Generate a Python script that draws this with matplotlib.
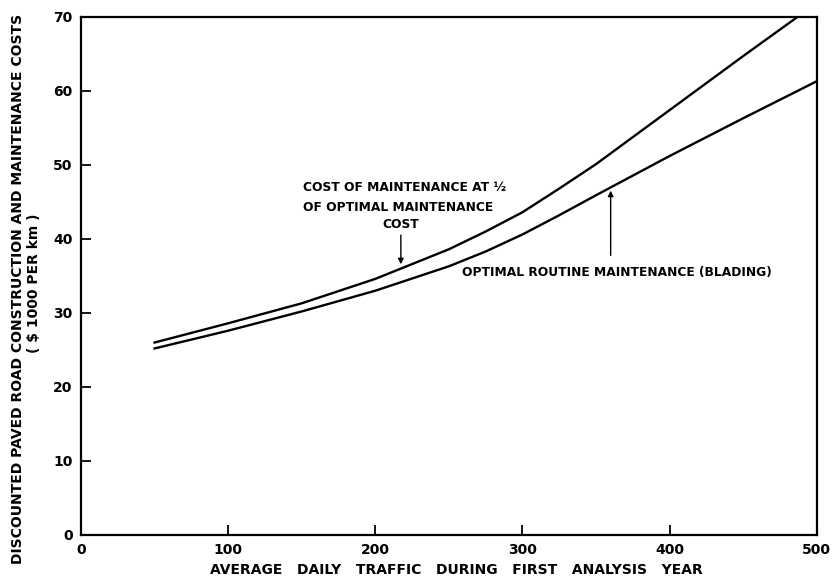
import matplotlib
matplotlib.use("Agg")
import matplotlib.pyplot as plt

# Data
traffic = [50, 100, 150, 200, 250, 275, 300, 325, 350, 400, 450, 487]
cost_half_maint = [26.0, 28.6, 31.3, 34.6, 38.6, 41.0, 43.6, 46.8, 50.1, 57.4, 64.7, 70.0]

traffic_opt = [50, 100, 150, 200, 250, 275, 300, 325, 350, 400, 450, 500]
cost_optimal = [25.2, 27.6, 30.2, 33.0, 36.3, 38.3, 40.6, 43.2, 45.9, 51.2, 56.3, 61.3]

x_ticks = [0, 100, 200, 300, 400, 500]
y_ticks = [0, 10, 20, 30, 40, 50, 60, 70]

plt.rcParams["font.family"] = ["DejaVu Sans"]
plt.rcParams["font.weight"] = "bold"

fig = plt.figure(figsize=(8.35, 5.84), dpi=100)
ax = fig.add_axes([0.097, 0.084, 0.881, 0.887])

ax.plot(traffic, cost_half_maint, color="black", lw=1.7, solid_joinstyle="round")
ax.plot(traffic_opt, cost_optimal, color="black", lw=1.7, solid_joinstyle="round")

ax.set_xlim(0, 500)
ax.set_ylim(0, 70)
ax.set_xticks(x_ticks)
ax.set_yticks(y_ticks)
ax.tick_params(direction="in", length=7, width=1.3, labelsize=10, pad=6)
for lbl in ax.get_xticklabels() + ax.get_yticklabels():
    lbl.set_fontweight("bold")
for s in ax.spines.values():
    s.set_linewidth(1.6)

# annotations
note_fs = 8.8
ax.text(150.8, 46.9, "COST OF MAINTENANCE AT ½", fontsize=note_fs, fontweight="bold", va="center", ha="left")
ax.text(150.8, 44.2, "OF OPTIMAL MAINTENANCE", fontsize=note_fs, fontweight="bold", va="center", ha="left")
ax.text(217.4, 41.9, "COST", fontsize=note_fs, fontweight="bold", va="center", ha="center")
ax.annotate("", xy=(217.4, 36.2), xytext=(217.4, 40.9),
            arrowprops=dict(arrowstyle="-|>", color="black", lw=1.0, mutation_scale=8))

ax.text(258.8, 35.5, "OPTIMAL ROUTINE MAINTENANCE (BLADING)", fontsize=note_fs, fontweight="bold",
        va="center", ha="left")
ax.annotate("", xy=(360, 46.9), xytext=(360, 37.4),
            arrowprops=dict(arrowstyle="-|>", color="black", lw=1.0, mutation_scale=8))

fig.text(0.547, 0.012, "AVERAGE   DAILY   TRAFFIC   DURING   FIRST   ANALYSIS   YEAR",
         fontsize=10, fontweight="bold", ha="center", va="bottom")
fig.text(0.022, 0.505, "DISCOUNTED PAVED ROAD CONSTRUCTION AND MAINTENANCE COSTS",
         fontsize=10, fontweight="bold", rotation=90, ha="center", va="center")
fig.text(0.041, 0.515, "( $ 1000 PER km )",
         fontsize=10, fontweight="bold", rotation=90, ha="center", va="center")

fig.savefig("out.png", dpi=100)
